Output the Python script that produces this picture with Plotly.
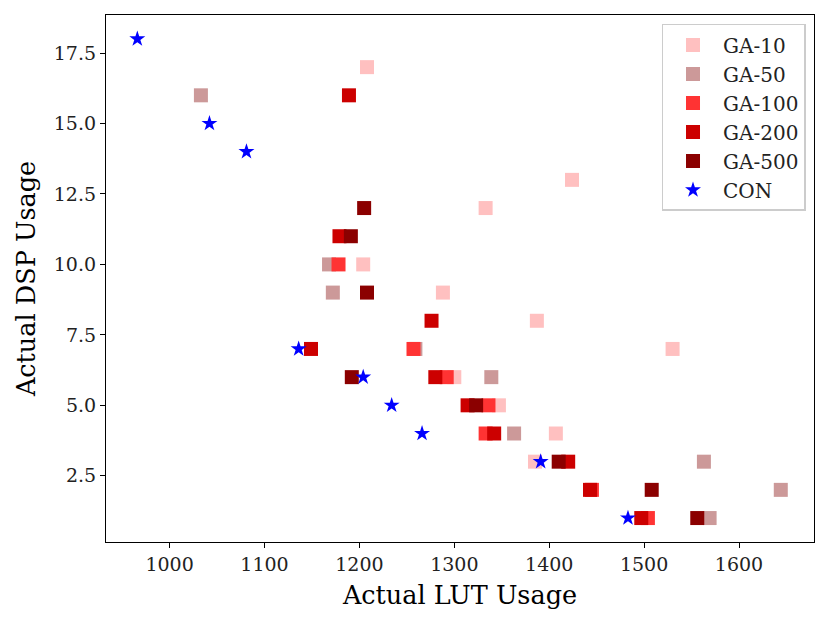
import plotly.graph_objects as go

series_names = ["GA-10", "GA-50", "GA-100", "GA-200", "GA-500", "CON"]

ga10_lut = [1208, 1424, 1333, 1204, 1288, 1387, 1530, 1300, 1347, 1407, 1385]
ga10_dsp = [17, 13, 12, 10, 9, 8, 7, 6, 5, 4, 3]

ga50_lut = [1033, 1168, 1172, 1259, 1339, 1363, 1563, 1644, 1569]
ga50_dsp = [16, 10, 9, 7, 6, 4, 3, 2, 1]

ga100_lut = [1178, 1257, 1292, 1336, 1333, 1445, 1504]
ga100_dsp = [10, 7, 6, 5, 4, 2, 1]

ga200_lut = [1189, 1179, 1276, 1149, 1280, 1314, 1342, 1420, 1443, 1497]
ga200_dsp = [16, 11, 8, 7, 6, 5, 4, 3, 2, 1]

ga500_lut = [1205, 1191, 1208, 1192, 1323, 1410, 1508, 1556]
ga500_dsp = [12, 11, 9, 6, 5, 3, 2, 1]

con_lut = [966, 1042, 1081, 1136, 1204, 1234, 1266, 1391, 1483]
con_dsp = [18, 15, 14, 7, 6, 5, 4, 3, 1]

colors = ["#ffc0c0", "#cc9999", "#ff3333", "#cc0000", "#8b0000", "#0000ff"]

data = [
    (ga10_lut, ga10_dsp),
    (ga50_lut, ga50_dsp),
    (ga100_lut, ga100_dsp),
    (ga200_lut, ga200_dsp),
    (ga500_lut, ga500_dsp),
    (con_lut, con_dsp),
]

fig = go.Figure()
for name, (xs, ys), col in zip(series_names, data, colors):
    is_con = name == "CON"
    fig.add_trace(go.Scatter(
        x=xs, y=ys, mode="markers", name=name, legendgroup=name,
        marker=dict(
            symbol="star" if is_con else "square",
            size=12 if is_con else 14,
            color=col,
            line=dict(width=0),
        ),
    ))

font_family = "DejaVu Serif"
axis_common = dict(
    showline=True, linecolor="black", linewidth=1.2, mirror=True,
    ticks="outside", ticklen=5, tickwidth=1.2, tickcolor="black",
    showgrid=False, zeroline=False,
    tickfont=dict(family=font_family, size=19, color="#222222"),
)

# page body has an 8px margin, so the figure is sized to fit the window
fig.update_layout(
    width=822, height=616,
    paper_bgcolor="white", plot_bgcolor="white",
    margin=dict(l=98, r=16, t=7, b=82),
    font=dict(family=font_family, color="black"),
    xaxis=dict(
        range=[933, 1679],
        tickvals=[1000, 1100, 1200, 1300, 1400, 1500, 1600],
        title=dict(text="Actual LUT Usage", font=dict(family=font_family, size=25.5), standoff=12),
        **axis_common,
    ),
    yaxis=dict(
        range=[0.15, 18.85],
        tickvals=[2.5, 5.0, 7.5, 10.0, 12.5, 15.0, 17.5],
        tickformat=".1f",
        title=dict(text="Actual DSP Usage", font=dict(family=font_family, size=25.5), standoff=10),
        **axis_common,
    ),
    legend=dict(
        x=0.988, y=0.983, xanchor="right", yanchor="top",
        bgcolor="white", bordercolor="#cccccc", borderwidth=1.5,
        font=dict(family=font_family, size=20, color="#222222"),
        tracegroupgap=0, itemwidth=50,
    ),
    showlegend=True,
)

fig.write_html("out.html")
